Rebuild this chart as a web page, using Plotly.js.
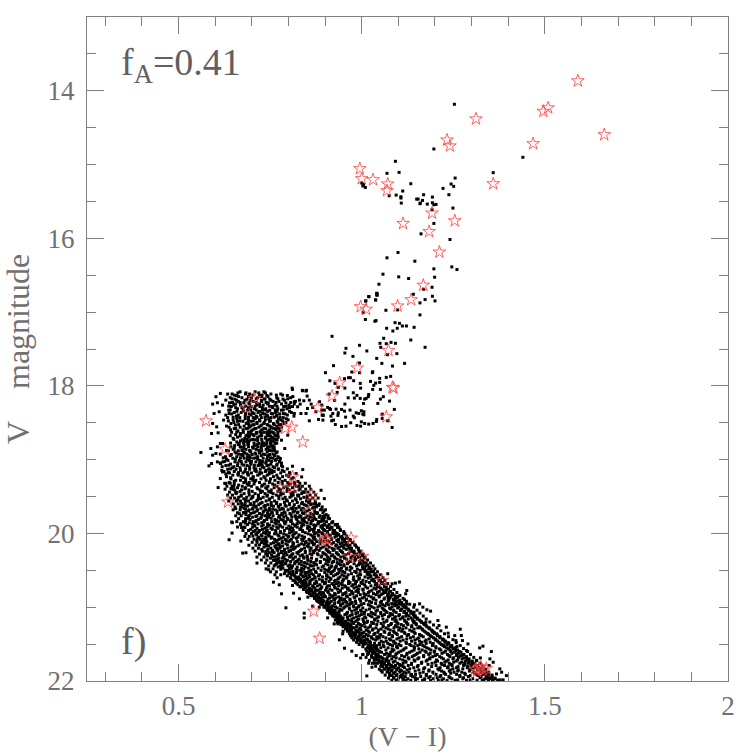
<!DOCTYPE html>
<html>
<head>
<meta charset="utf-8">
<script src="https://cdn.plot.ly/plotly-3.0.1.min.js"></script>
<style>html,body{margin:0;padding:0;background:#fff}#grafico{width:746px;height:754px}</style>
</head>
<body>
<div id="grafico"></div>
<script>
// estrelas (vermelho)
const estrelasVI = [1.590,1.509,1.496,1.662,1.312,1.233,1.241,1.468,1.359,.995,1.0,1.031,1.071,1.069,1.113,1.192,1.254,1.184,1.212,1.168,1.135,1.098,.997,1.012,1.073,.988,.94,.919,1.084,1.087,1.067,.88,.707,.685,.575,.791,.809,.839,.627,.635,.811,.809,.778,.863,.855,.971,.9,.906,.893,1.056,.869,.885,.967,1.002,1.32,1.31,1.33,1.325,1.34,1.315];
const estrelasV = [13.866,14.232,14.278,14.595,14.382,14.667,14.748,14.717,15.26,15.056,15.192,15.206,15.264,15.355,15.799,15.658,15.762,15.908,16.187,16.636,16.832,16.917,16.927,16.961,17.519,17.758,17.958,18.138,18.02,18.03,18.42,18.297,18.17,18.298,18.474,18.577,18.559,18.759,18.858,19.574,19.234,19.374,19.384,19.483,19.7,20.063,20.076,20.08,20.11,20.638,21.054,21.42,20.32,20.31,21.83,21.84,21.85,21.81,21.83,21.87];

// pontos isolados: ramo das gigantes
const gigantesVI = [1.253,1.197,1.092,1.069,1.102,1.134,1.255,1.244,1.251,1.222,1.238,1.112,1.094,1.107,1.107,1.075,1.169,1.193,1.150,1.154,1.166,1.160,1.159,1.179,1.108,1.193,1.197,1.203,1.249,1.192,1.197,1.162,1.241,1.099,1.069,1.145,1.197,1.246,1.26,1.058,1.101,1.128,1.199,1.047,1.192,1.169,1.042,1.042,1.038,1.141,1.193,1.173,1.2,1.159,1.066,1.098,1.159,1.440,1.359,1.0,1.005,1.01,1.003,1.02,1.011];
const gigantesV = [14.183,14.789,14.956,15.119,15.106,15.26,15.183,15.264,15.296,15.323,15.409,15.359,15.414,15.436,15.454,15.423,15.409,15.441,15.468,15.468,15.486,15.522,15.531,15.536,15.522,15.518,15.545,15.54,15.59,15.613,15.798,15.939,16.016,16.192,16.264,16.31,16.414,16.387,16.423,16.486,16.522,16.545,16.527,16.622,16.663,16.69,16.753,16.771,16.835,16.758,16.785,16.83,16.848,16.875,16.975,16.97,17.038,14.902,15.11,15.25,15.27,15.31,15.29,16.79,16.85];

// pontos isolados: sub-gigantes
const subgigantesVI = [1.041,1.041,1.019,1.038,1.011,1.004,1.010,1.036,1.039,1.091,1.103,1.111,1.122,1.068,1.097,1.085,1.143,.919,1.06,1.134,1.05,1.067,1.08,1.092,.994,1.052,1.173,.957,.954,1.014,1.096,1.07,.976,1.041,1.055,.994,1.117,1.084,.923,.901,.973,.994,1.03,1.029,1.067,1.079,1.049,.953,.964,.969,.978,.913,1.024,.996,1.038,1.049,1.033,1.03,1.051,.997,.927,.936,.954,.977,.987,.996,1.019,1.018,1.012,.963,.98,1.008,1.059,1.051,1.044,1.076,1.005,.954,.933,.911,.926,1.089,.907,.912,.915,.891,.892,.895,.894,.921,.916,.93,.936,.935,.945,.953,.968,.956,.923,.918,.928,.945,.957,.97,.977,.985,.992,.999,1.006,1.003,1.006,.98,.999,.987,.997,1.008,1.019,1.031,1.04,1.041,1.056,1.056,1.071,1.083,.811,.839,.848,.851,.816,.842,.825,.862,.866,.885,.891,.834,.816,.857,.898,.848,.875,.894,.882,.852,.83,.832,.857,.81,.838,.849];
const subgigantesV = [16.744,16.767,16.79,16.835,16.848,17.007,17.10,17.124,17.115,17.143,17.152,17.188,17.188,17.219,17.219,17.256,17.206,17.328,17.355,17.378,17.423,17.428,17.41,17.423,17.45,17.477,17.477,17.491,17.554,17.527,17.563,17.577,17.6,17.627,17.695,17.69,17.695,17.731,17.726,17.821,17.812,17.821,17.808,17.821,17.885,17.871,17.898,17.903,17.889,17.889,17.93,17.93,17.939,17.966,17.962,17.953,17.993,18.048,18.048,18.03,17.966,18.02,18.03,18.093,18.129,18.17,18.116,18.147,18.17,18.161,18.165,18.179,18.147,18.179,18.238,18.206,18.238,18.247,18.088,18.111,18.197,18.319,18.292,18.306,18.319,18.328,18.396,18.4,18.464,18.374,18.41,18.315,18.365,18.4,18.319,18.342,18.328,18.423,18.464,18.473,18.523,18.55,18.546,18.5,18.41,18.365,18.374,18.337,18.351,18.383,18.392,18.432,18.487,18.537,18.546,18.509,18.518,18.509,18.482,18.455,18.383,18.441,18.473,18.564,18.048,18.066,18.07,18.138,18.215,18.202,18.283,18.247,18.292,18.215,18.26,18.374,18.374,18.473,18.328,18.374,18.351,18.396,18.455,18.306,18.193,18.247,18.193,18.03,18.06,18.06];

// pontos isolados: bordas da sequencia principal
const bordaVI = [.602,.614,.593,.606,.62,.629,.634,.597,.611,.593,.604,.59,.608,.629,.623,.614,.62,.606,.588,.561,.602,.593,.583,.59,.606,.615,.614,.608,.62,.629,.643,.761,.781,.798,.79,.778,.811,.839,.821,.836,.839,.889,.898,.825,.645,.638,.646,.67,.675,.684,.714,.746,.759,.769,.775,.781,.793,.811,.814,.83,.843,.843,.853,.866,.884,.907,.925,.647,.661,.67,.682,.679,.656,.666,.877,.898,.934,.875,.894,.925,.937,1.071,1.021,1.092,1.103,1.083,1.123,1.12,1.085,1.099,1.117,1.123,1.144,1.158,1.167,1.178,1.188,1.143,1.144,1.175,1.208,1.211,1.195,1.231,1.236,1.269,1.254,1.272,1.257,1.275,1.245,1.26,1.29,1.331,1.322,1.354,1.286,1.324,1.35,1.359,1.313,1.348,1.377,1.382,1.368,1.395,1.359,1.386,.953,.973,.985,.997,1.003,1.028,1.019,1.035,1.047,1.058,1.053,1.071,1.076,1.014,.935,.948,.939];
const bordaV = [18.147,18.102,18.247,18.229,18.26,18.193,18.111,18.374,18.351,18.509,18.555,18.645,18.636,18.396,18.464,18.781,18.781,18.826,18.849,18.903,18.917,18.939,19.084,19.052,19.03,19.052,19.256,19.378,19.166,19.324,19.392,18.758,18.736,18.668,18.849,18.985,19.089,19.134,19.188,19.234,19.437,19.415,19.528,19.483,19.845,20.085,19.995,20.103,20.266,20.262,20.402,20.492,20.66,20.601,20.696,20.818,21.008,20.705,20.809,20.886,21.081,21.144,20.864,20.986,21,21.144,21.226,19.854,19.913,19.868,19.859,19.913,19.664,19.732,19.628,19.786,19.877,19.89,19.89,19.981,20.017,20.546,20.524,20.673,20.659,20.682,20.773,20.818,20.827,20.854,20.899,20.954,20.967,20.954,20.999,21.035,21.053,21.067,21.135,21.203,21.18,21.248,21.338,21.27,21.352,21.298,21.384,21.384,21.452,21.452,21.533,21.533,21.497,21.528,21.551,21.601,21.587,21.687,21.7,21.746,21.723,21.791,21.836,21.881,21.904,21.927,21.972,21.985,21.556,21.596,21.655,21.687,21.642,21.814,21.759,21.759,21.7,21.746,21.859,21.836,21.927,21.931,21.225,21.361,21.442];

// sequencia principal densa: cada linha e [V, (V-I), (V-I), ...]
const faixas = [
[18.08,.709,.668,.733],[18.11,.779,.646,.694,.752,.683],[18.13,.741,.658,.797,.721],[18.16,.716,.641,.806,.673,.768,.699],
[18.18,.749,.687,.654,.785,.736],[18.21,.819,.663,.727,.704,.774,.758],[18.23,.692,.639,.793,.745,.678],[18.26,.731,.802,.651,.714,.669,.763],
[18.28,.644,.755,.698,.811,.722,.787],[18.31,.771,.661,.707,.796,.676,.738],[18.33,.688,.781,.637,.749,.729],[18.36,.717,.652,.808,.671,.764,.701],
[18.38,.776,.645,.735,.693,.791,.757],[18.41,.682,.815,.743,.658,.712,.767],[18.43,.726,.634,.786,.704,.667,.752],[18.46,.691,.799,.737,.649,.779,.721],
[18.48,.769,.661,.697,.748,.676],[18.51,.643,.733,.788,.685,.759,.714],[18.53,.702,.775,.655,.744,.727],[18.56,.753,.638,.693,.781,.668,.719],
[18.58,.708,.652,.765,.684,.738],[18.61,.777,.699,.662,.746,.725],[18.63,.734,.645,.713,.758,.677],[18.66,.689,.771,.656,.742,.703],
[18.68,.722,.668,.763,.694,.751],[18.71,.649,.737,.681,.757,.716],[18.73,.769,.698,.674,.745,.709],[18.76,.728,.659,.752,.686],
[18.78,.691,.764,.666,.741,.719],[18.81,.733,.653,.707,.756,.679],[18.83,.702,.748,.671,.725],[18.86,.761,.649,.712,.684,.739],
[18.88,.695,.636,.754,.663,.727],[18.91,.721,.766,.657,.709,.681],[18.93,.644,.736,.701,.749,.672],[18.96,.688,.628,.771,.716,.659,.743],
[18.98,.731,.648,.705,.758,.679],[19.01,.693,.764,.635,.722,.666,.747],[19.03,.711,.621,.775,.654,.739,.684],[19.06,.752,.642,.698,.769,.673,.728],
[19.08,.687,.781,.629,.741,.661,.717],[19.11,.733,.647,.762,.706,.668],[19.13,.657,.772,.694,.634,.749,.723],[19.16,.712,.624,.788,.681,.761,.652,.737],
[19.18,.699,.755,.639,.779,.676,.727],[19.21,.768,.648,.716,.795,.663,.742,.691],[19.23,.704,.631,.784,.671,.759,.801,.733],[19.26,.751,.643,.725,.809,.683,.776,.697],
[19.28,.669,.763,.711,.791,.656,.739,.703],[19.31,.721,.798,.638,.772,.693,.817,.678,.748],[19.33,.735,.652,.805,.706,.757,.687,.783],[19.36,.769,.646,.727,.822,.699,.794,.674,.744],
[19.38,.714,.811,.661,.761,.683,.787,.738],[19.41,.753,.672,.829,.722,.653,.778,.692,.802],[19.43,.701,.796,.746,.668,.818,.729,.771],[19.46,.736,.657,.836,.786,.709,.679,.758,.807],
[19.48,.693,.767,.827,.718,.671,.813,.743,.779],[19.51,.756,.664,.731,.842,.686,.791,.702,.804,.718],[19.53,.698,.833,.749,.678,.785,.724,.819,.774],[19.56,.811,.669,.739,.849,.691,.762,.797,.713],
[19.58,.728,.682,.855,.768,.706,.824,.789,.753,.838],[19.61,.674,.843,.744,.803,.696,.861,.778,.719,.816],[19.63,.759,.688,.829,.711,.794,.852,.733,.772],[19.66,.807,.679,.748,.866,.703,.783,.839,.725,.821],
[19.68,.716,.857,.693,.777,.835,.738,.799,.764,.748],[19.71,.826,.684,.754,.872,.731,.788,.846,.708,.813],[19.73,.743,.697,.861,.782,.721,.841,.804,.769,.878],[19.76,.693,.818,.736,.869,.758,.851,.714,.793,.831,.776],
[19.78,.848,.702,.773,.884,.726,.809,.746,.865,.787,.828],[19.81,.695,.837,.763,.891,.718,.875,.799,.741,.823,.856,.779],[19.84,.754,.711,.882,.806,.733,.844,.773,.862,.704,.826,.793],[19.87,.861,.717,.791,.898,.743,.824,.702,.767,.881,.811,.839],
[19.90,.727,.853,.778,.906,.708,.836,.758,.889,.801,.872,.744,.819],[19.93,.795,.714,.871,.752,.913,.834,.736,.893,.772,.852,.811],[19.96,.882,.721,.813,.742,.922,.765,.857,.709,.838,.899,.789,.869],[19.99,.748,.906,.778,.716,.846,.803,.928,.732,.876,.821,.766,.891],
[20.02,.861,.726,.936,.794,.713,.829,.771,.911,.745,.881,.812,.897],[20.05,.719,.844,.786,.927,.755,.902,.738,.813,.871,.942,.799,.826],[20.08,.774,.918,.732,.856,.947,.808,.723,.888,.762,.836,.873,.791],[20.11,.897,.741,.824,.936,.766,.865,.729,.953,.801,.911,.783,.848,.878],
[20.14,.752,.887,.793,.959,.836,.734,.918,.814,.871,.773,.941,.855],[20.17,.826,.962,.746,.901,.784,.852,.929,.763,.881,.811,.739,.946],[20.20,.768,.919,.844,.752,.966,.798,.888,.817,.951,.776,.862,.935],[20.23,.906,.757,.833,.941,.789,.872,.971,.743,.859,.806,.922,.771,.884],
[20.26,.761,.979,.823,.894,.748,.948,.846,.792,.913,.869,.781,.931],[20.29,.864,.754,.937,.809,.984,.773,.903,.838,.956,.881,.796,.921],[20.32,.786,.926,.762,.851,.971,.819,.889,.757,.991,.841,.907,.803,.943],[20.35,.877,.768,.959,.829,.913,.791,.984,.853,.933,.771,.898,.813],
[20.38,.994,.775,.861,.923,.806,.946,.784,.887,.835,.969,.909,.822],[20.41,.792,.938,.851,.781,.999,.873,.817,.961,.902,.768,.979,.829],[20.44,.896,.777,.952,.843,1.004,.799,.918,.868,.986,.811,.931,.861],[20.47,.809,.973,.881,.785,.945,.836,.912,1.008,.803,.959,.855,.927],
[20.50,.925,.798,.861,1.012,.824,.889,.968,.791,.941,.833,.996,.906],[20.53,.851,.985,.803,.917,.845,1.017,.876,.954,.822,.938,.899,.812],[20.56,.963,.815,.885,1.021,.834,.929,.808,.997,.868,.946,.905,.856],[20.59,.827,.908,1.025,.858,.978,.819,.941,.893,1.009,.841,.959,.872],
[20.62,.935,.833,.992,.866,1.031,.916,.823,.977,.884,.951,.849,.903],[20.65,.875,1.035,.839,.964,.911,.829,1.012,.858,.986,.926,.893,.947],[20.68,.983,.846,.919,1.041,.871,.943,.837,1.002,.898,.964,.859,.931],[20.71,.866,.954,1.047,.851,.912,.994,.879,1.025,.841,.937,.906,.973],
[20.74,.928,.857,1.051,.889,.979,.846,.963,1.016,.904,.872,1.034,.947],[20.77,1.004,.853,.942,.881,1.059,.919,.864,.988,.901,1.028,.966,.875],[20.80,.893,1.065,.871,.957,1.018,.859,.936,.974,.909,1.043,.886,.991],[20.83,.948,.876,1.039,.913,1.072,.866,.996,.928,.889,1.011,.968,1.053],
[20.86,.883,1.007,.937,1.078,.871,.961,.901,1.048,.979,.919,1.026,.893],[20.89,1.061,.889,.953,1.086,.924,.876,.994,1.031,.908,.968,1.013,.941],[20.92,.897,.983,1.072,.939,1.094,.882,.917,1.021,.956,1.054,.906,.997],[20.95,1.103,.911,1.038,.891,.969,1.068,.926,1.006,.949,1.082,.984,.903],
[20.98,.921,1.112,.977,.898,1.049,.943,1.023,.908,.993,1.091,.959,1.064],[21.01,1.034,.904,.966,1.121,.933,1.076,1.003,.918,1.098,.951,1.056,.986],[21.04,.927,1.128,1.012,.909,.981,1.087,.946,1.043,.918,1.106,.997,1.062],[21.07,1.069,.923,.961,1.134,1.026,.914,1.094,.989,1.052,.938,1.115,1.007],
[21.10,.936,1.037,.919,1.122,.974,1.141,1.084,.954,1.018,.928,1.062,.999,1.103],[21.13,1.146,.943,1.046,.926,.986,1.113,1.028,.961,1.073,.934,1.092,1.008],[21.16,.948,1.058,1.152,.932,1.003,1.127,.973,1.084,1.036,.941,1.105,.992],[21.19,1.118,.938,1.016,1.161,.956,1.068,.984,1.143,.947,1.044,1.091,1.005,.972],
[21.22,.963,1.169,1.053,.946,1.124,1.007,.978,1.081,.953,1.148,1.032,1.099,.991],[21.25,1.073,.952,1.176,.987,1.114,1.024,.959,1.137,1.001,1.059,.971,1.092],[21.28,.968,1.153,1.039,.956,1.184,1.088,.996,1.121,1.017,.979,1.066,1.104],[21.31,1.131,.963,1.046,1.191,.984,1.101,1.012,.972,1.167,1.078,1.029,.998],
[21.34,.977,1.198,1.063,.969,1.116,1.021,1.175,.992,1.089,1.044,1.143,1.006],[21.37,1.158,.983,1.033,1.206,1.097,.996,1.074,.975,1.128,1.012,1.183,1.052],[21.40,.991,1.213,1.109,1.026,.981,1.168,1.058,1.003,1.141,1.084,1.191,1.041],[21.43,1.076,.997,1.221,1.151,1.014,1.123,1.042,1.184,.988,1.096,1.201,1.031],
[21.46,1.004,1.136,1.229,1.067,1.173,1.021,1.105,.995,1.207,1.053,1.158,1.087],[21.49,1.238,1.011,1.092,1.146,1.035,1.195,1.003,1.071,1.214,1.122,1.048,1.176],[21.52,1.018,1.167,1.245,1.059,1.107,1.222,1.026,1.135,1.084,1.193,1.041,1.153],[21.55,1.121,1.024,1.254,1.072,1.203,1.036,1.178,1.098,1.232,1.052,1.144,1.016],
[21.58,1.031,1.262,1.113,1.189,1.066,1.241,1.143,1.043,1.216,1.088,1.165,1.022],[21.61,1.198,1.037,1.271,1.131,1.054,1.225,1.079,1.159,1.252,1.101,1.029,1.176],[21.64,1.045,1.148,1.279,1.093,1.234,1.062,1.206,1.123,1.038,1.259,1.076,1.183],[21.67,1.241,1.051,1.117,1.286,1.169,1.071,1.194,1.043,1.266,1.138,1.087,1.213],
[21.70,1.059,1.293,1.104,1.223,1.153,1.047,1.274,1.082,1.186,1.129,1.249,1.068],[21.73,1.176,1.066,1.302,1.119,1.258,1.091,1.207,1.055,1.145,1.283,1.074,1.231],[21.76,1.073,1.239,1.136,1.309,1.098,1.192,1.062,1.268,1.163,1.113,1.291,1.217],[21.79,1.316,1.081,1.154,1.247,1.108,1.203,1.067,1.278,1.127,1.226,1.092,1.298],
[21.82,1.089,1.172,1.323,1.259,1.117,1.214,1.077,1.142,1.288,1.234,1.101,1.307],[21.85,1.264,1.096,1.331,1.184,1.124,1.295,1.083,1.156,1.242,1.106,1.316,1.211],[21.88,1.103,1.273,1.168,1.338,1.129,1.224,1.091,1.306,1.194,1.252,1.116,1.324],[21.91,1.347,1.112,1.203,1.283,1.136,1.098,1.314,1.177,1.259,1.229,1.331,1.147],
[21.94,1.119,1.291,1.356,1.161,1.238,1.106,1.326,1.187,1.268,1.139,1.214,1.341],[21.97,1.303,1.126,1.364,1.196,1.114,1.246,1.152,1.337,1.276,1.172,1.351,1.223],[21.99,1.134,1.372,1.209,1.286,1.121,1.166,1.346,1.255,1.315,1.188,1.233]
];

// segunda leitura da faixa, em V intermediarios, com as bordas mais soltas
const faixasExtra = [
[19.195,.688,.629,.747,.804,.721,.662],[19.245,.736,.642,.813,.677,.771,.703],[19.295,.652,.783,.708,.826,.749,.683],[19.345,.729,.817,.664,.762,.691,.801],
[19.395,.774,.649,.832,.716,.681,.797,.741],[19.445,.692,.843,.752,.659,.812,.724,.779],[19.495,.808,.671,.741,.851,.703,.773,.828],[19.545,.716,.858,.683,.794,.747,.821,.661],
[19.595,.836,.696,.767,.874,.723,.803,.672],[19.62,.753,.882,.705,.791,.681,.848,.737],[19.645,.813,.669,.736,.869,.774,.829,.712],[19.67,.702,.891,.757,.842,.786,.683,.811],
[19.695,.769,.851,.691,.733,.897,.817,.714,.744],[19.72,.876,.704,.791,.678,.838,.756,.824],[19.745,.728,.903,.684,.807,.867,.749,.783],[19.77,.834,.711,.776,.894,.691,.859,.742,.819],
[19.795,.689,.908,.753,.821,.797,.871,.724,.843],[19.825,.768,.896,.712,.841,.683,.808,.734,.866,.786],[19.855,.918,.727,.789,.693,.851,.763,.833,.881],[19.885,.706,.817,.929,.748,.869,.776,.899,.731,.842],
[19.915,.784,.702,.889,.824,.938,.741,.858,.768,.806,.916],[19.945,.864,.729,.941,.697,.803,.896,.756,.831,.913],[19.975,.719,.951,.839,.778,.907,.704,.869,.809,.739,.884],[20.005,.816,.739,.926,.711,.954,.854,.787,.893,.762,.871],
[20.035,.703,.958,.801,.883,.748,.914,.837,.728,.866,.774,.931],[20.065,.917,.716,.842,.961,.781,.899,.739,.822,.868,.753,.948],[20.095,.737,.877,.969,.804,.714,.932,.769,.859,.906,.794,.839],[20.125,.846,.974,.726,.923,.783,.887,.759,.946,.812,.864,.738],
[20.155,.981,.741,.829,.906,.768,.954,.721,.868,.797,.931,.843,.775],[20.185,.778,.894,.986,.733,.819,.939,.856,.764,.911,.807,.877],[20.215,.876,.744,.991,.789,.925,.836,.958,.727,.903,.813,.769],[20.245,.756,.993,.846,.909,.781,.868,.973,.738,.829,.945,.801],
[20.275,.933,.773,.859,.997,.742,.826,.898,.964,.787,.879,.812],[20.305,.806,.743,1.002,.917,.851,.769,.976,.832,.891,.951,.788],[20.335,.909,.751,.971,.842,1.008,.784,.863,.953,.812,.927,.774],[20.365,.759,.876,1.003,.797,.941,.826,.904,.764,.981,.853],
[20.395,.963,.818,1.012,.769,.887,.933,.844,.793,.919,.869,.778],[20.425,.836,.992,.764,.908,1.016,.804,.951,.877,.785,.942,.859],[20.455,1.021,.781,.929,.846,.969,.808,.892,1.002,.824,.916,.772],[20.485,.869,.779,.988,1.026,.821,.937,.804,.899,.958,.842,.911],
[20.515,.793,.948,.874,1.032,.837,.981,.909,.812,1.009,.856,.921],[20.545,1.037,.834,.916,.801,.972,.863,.995,.789,.934,.847,1.015],[20.575,.882,.817,1.024,.952,1.041,.797,.923,.848,.989,.839,.904],[20.605,.806,1.046,.959,.873,.994,.829,.914,1.018,.852,.937],
[20.635,.979,.844,1.051,.892,.812,.949,1.003,.861,.928,.833,1.027],[20.665,.819,.936,1.056,.901,.998,.848,1.021,.877,.968,.836],[20.695,1.062,.855,.947,.826,1.008,.886,.977,.839,.923,1.037],[20.725,.891,1.067,.833,.986,.926,1.042,.868,.956,1.011,.843],
[20.755,1.073,.934,.841,1.003,.887,1.039,.961,.862,.992,.913,1.055],[20.785,.849,.972,1.079,.907,1.022,.873,1.048,.942,.859,.984],[20.815,1.084,.884,1.006,.857,.951,1.032,.896,.976,.926,1.058],[20.845,.921,1.091,.864,1.047,.986,.899,1.019,.874,.958,1.071],
[20.875,1.002,.872,1.097,.944,1.063,.912,.981,.881,1.033,.929,1.076],[20.905,.889,1.039,1.104,.968,.877,1.074,.926,1.012,.948,.894,1.087],[20.935,1.109,.959,.884,1.027,.913,1.051,.891,.974,1.091,.936],[20.965,.893,1.116,.999,1.073,.942,1.018,.904,1.057,.966,1.096],
[20.995,1.028,.916,1.121,.978,.899,1.083,.954,1.044,.928,1.101,.991],[21.025,1.127,.908,1.059,.986,.941,1.109,1.021,.917,1.079,.967],[21.055,.938,1.134,.973,1.066,.913,1.039,1.117,.999,.927,1.088],[21.085,1.139,.919,1.052,1.007,.959,1.123,.984,1.078,.933,1.031],
[21.115,.926,1.077,1.146,.968,1.023,.941,1.101,1.056,.993,1.129],[21.145,1.151,1.011,.934,1.089,.961,1.135,1.042,.949,.978,1.111],[21.175,.941,1.158,1.069,.988,1.117,.928,1.035,1.094,.964,1.139],[21.205,1.096,.946,1.164,1.014,.976,1.143,1.061,.934,1.122,1.027],
[21.235,1.171,.957,1.041,1.108,.943,.996,1.149,1.079,.969,1.126],[21.265,.949,1.178,1.058,1.136,1.009,.964,1.097,1.158,.986,1.023],[21.295,1.186,1.031,.956,1.112,.993,1.165,1.072,.971,1.143,1.053],[21.325,.961,1.193,1.087,.989,1.137,1.018,1.171,.949,1.061,1.109],
[21.355,1.199,1.001,1.076,.966,1.146,1.036,1.179,.984,1.118,1.094],[21.385,.976,1.124,1.207,1.049,.994,1.163,1.083,.969,1.187,1.018],[21.415,1.214,1.066,.983,1.133,1.027,1.196,.973,1.102,1.156,1.048],[21.445,.989,1.221,1.113,1.038,1.176,1.008,1.145,.978,1.079,1.203],
[21.475,1.227,1.059,.997,1.164,1.121,1.019,1.211,1.088,.986,1.187],[21.505,1.006,1.233,1.131,1.077,1.194,.993,1.049,1.159,1.218,1.101],[21.535,1.241,1.018,1.095,1.172,1.003,1.226,1.061,1.143,1.202,1.034],[21.565,1.011,1.249,1.156,1.039,1.116,1.237,1.028,1.184,1.083,1.212],
[21.595,1.257,1.084,1.023,1.199,1.137,1.046,1.229,1.107,1.014,1.173],[21.625,1.031,1.264,1.152,1.068,1.219,1.019,1.124,1.246,1.096,1.187],[21.655,1.272,1.041,1.169,1.109,1.027,1.238,1.078,1.201,1.143,1.259],[21.685,1.033,1.279,1.186,1.056,1.127,1.251,1.094,1.218,1.039,1.156],
[21.715,1.287,1.046,1.204,1.112,1.069,1.262,1.179,1.041,1.236,1.143],[21.745,1.053,1.294,1.164,1.227,1.086,1.273,1.047,1.121,1.201,1.251],[21.775,1.301,1.059,1.136,1.244,1.181,1.076,1.282,1.054,1.219,1.103],[21.805,1.068,1.311,1.191,1.113,1.263,1.057,1.152,1.236,1.289,1.084],
[21.835,1.317,1.074,1.208,1.131,1.276,1.063,1.169,1.249,1.096,1.299],[21.865,1.081,1.326,1.146,1.262,1.218,1.072,1.183,1.294,1.109,1.239],[21.895,1.333,1.087,1.197,1.121,1.281,1.243,1.076,1.159,1.309,1.226],[21.925,1.094,1.341,1.268,1.134,1.216,1.083,1.297,1.176,1.319,1.108],
[21.955,1.349,1.101,1.206,1.278,1.146,1.088,1.241,1.323,1.183,1.111],[21.985,1.113,1.358,1.262,1.099,1.171,1.296,1.219,1.333,1.147,1.378]
];

// topo da sequencia (V < 19.2), mais cheio que a primeira leitura
const faixasTopo = [
[18.095,.737,.684,.662,.719],[18.125,.703,.767,.652,.728,.784],[18.145,.691,.744,.664,.812,.726],[18.175,.771,.712,.646,.734,.798],
[18.195,.658,.726,.789,.681,.752,.697],[18.225,.739,.668,.806,.713,.766,.647],[18.245,.694,.781,.656,.743,.721,.816],[18.275,.748,.637,.709,.769,.683,.794],
[18.295,.673,.729,.803,.656,.757,.691],[18.325,.764,.712,.641,.786,.697,.736],[18.345,.659,.743,.803,.677,.721,.769],[18.375,.706,.786,.638,.753,.683,.729],
[18.395,.768,.663,.724,.797,.698,.741],[18.425,.649,.736,.777,.691,.714,.761],[18.445,.709,.794,.659,.746,.682,.773],[18.475,.751,.636,.722,.784,.668,.704],
[18.495,.689,.771,.651,.734,.714,.793],[18.525,.761,.664,.706,.779,.692,.742],[18.545,.631,.723,.749,.679,.768,.697],[18.575,.711,.656,.758,.689,.773,.733],
[18.595,.766,.642,.728,.676,.703,.749],[18.625,.691,.754,.659,.722,.771,.742],[18.645,.726,.669,.761,.697,.748,.712],[18.675,.641,.743,.684,.768,.706,.727],
[18.695,.754,.661,.716,.691,.772,.738],[18.725,.687,.749,.651,.727,.764,.703],[18.745,.716,.669,.756,.693,.741,.679],[18.775,.751,.642,.706,.732,.677,.768],
[18.795,.689,.727,.663,.752,.714,.738],[18.825,.643,.743,.691,.761,.716,.668],[18.845,.726,.678,.757,.704,.652,.744],[18.875,.673,.748,.631,.719,.694,.762],
[18.895,.742,.654,.697,.769,.722,.678],[18.925,.614,.687,.758,.711,.664,.731],[18.945,.726,.641,.762,.693,.676,.744],[18.975,.669,.751,.622,.712,.696,.774],
[18.995,.741,.655,.688,.767,.716,.631],[19.025,.699,.626,.754,.671,.729,.776],[19.045,.662,.738,.614,.781,.696,.721],[19.075,.746,.637,.707,.678,.768,.721],
[19.095,.651,.729,.784,.694,.619,.758],[19.125,.711,.642,.773,.683,.746,.797],[19.145,.669,.739,.618,.708,.783,.754],[19.175,.748,.636,.689,.803,.722,.664]
];

// bordas soltas da faixa inferior: pontos fora do nucleo, dos dois lados
const faixasBordas = [
[19.32,.626,.641,.831,.846],[19.36,.632,.651,.838,.857,.829],[19.40,.648,.627,.847,.861],[19.44,.639,.656,.853,.842,.869],
[19.48,.647,.634,.859,.874],[19.52,.653,.642,.851,.866,.881],[19.56,.658,.637,.873,.858],[19.60,.663,.649,.884,.869,.861],
[19.64,.654,.672,.876,.892],[19.68,.668,.649,.887,.871,.901],[19.72,.661,.677,.894,.879],[19.76,.671,.656,.908,.886,.899],
[19.80,.664,.683,.912,.893],[19.84,.677,.659,.904,.921,.889],[19.88,.669,.688,.927,.911],[19.92,.681,.672,.919,.934,.906],
[19.96,.691,.676,.942,.926],[20.00,.684,.699,.933,.951,.921],[20.04,.693,.681,.946,.959],[20.08,.706,.689,.953,.937,.968],
[20.12,.701,.714,.961,.976],[20.16,.692,.711,.951,.983,.968],[20.20,.718,.703,.991,.972],[20.24,.709,.729,.979,.996,.968],
[20.28,.721,.738,.987,1.004],[20.32,.733,.714,1.009,.994,.981],[20.36,.741,.726,1.016,.998],[20.40,.737,.752,1.007,1.024,.994],
[20.44,.746,.761,1.031,1.012],[20.48,.758,.739,1.019,1.036,1.004],[20.52,.767,.751,1.043,1.026],[20.56,.763,.779,1.034,1.051,1.017],
[20.60,.821,.806,1.058,1.039],[20.64,.816,.831,1.047,1.063,1.032],[20.68,.839,.823,1.071,1.054],[20.72,.831,.848,1.062,1.079,1.046],
[20.76,.856,.842,1.088,1.067],[20.80,.851,.868,1.074,1.096,1.061],[20.84,.878,.861,1.104,1.081],[20.88,.871,.886,1.113,1.092,1.073],
[20.92,.896,.879,1.101,1.122],[20.96,.888,.904,1.131,1.108,1.089],[21.00,.912,.897,1.116,1.142],[21.04,.906,.921,1.151,1.127,1.106],
[21.08,.929,.913,1.136,1.159],[21.12,.921,.937,1.168,1.144,1.121],[21.16,.946,.931,1.153,1.176],[21.20,.939,.956,1.186,1.163,1.141],
[21.24,.966,.948,1.196,1.174],[21.28,.959,.976,1.183,1.206,1.161],[21.32,.969,.986,1.216,1.192],[21.36,.981,.997,1.204,1.226,1.181],
[21.40,.993,1.008,1.237,1.213],[21.44,.999,1.016,1.224,1.249,1.201],[21.48,1.009,1.024,1.258,1.236],[21.52,1.019,1.033,1.246,1.269,1.224],
[21.56,1.026,1.041,1.278,1.256],[21.60,1.034,1.049,1.267,1.289,1.243],[21.64,1.016,1.003,1.297,1.276],[21.68,1.027,1.012,1.286,1.306,1.264],
[21.72,1.034,1.021,1.314,1.293],[21.76,1.043,1.029,1.303,1.323,1.281],[21.80,1.052,1.038,1.331,1.311],[21.84,1.061,1.048,1.322,1.339,1.301],
[21.88,1.069,1.056,1.347,1.328],[21.92,1.078,1.064,1.339,1.356,1.316],[21.96,1.087,1.073,1.364,1.343],[21.99,1.094,1.082,1.357,1.371,1.329]
];

const tamanhoPonto = 3;
const faixasTodas = [...faixas, ...faixasExtra, ...faixasTopo, ...faixasBordas];
const faixasX = faixasTodas.flatMap(linha => linha.slice(1));
const faixasY = faixasTodas.flatMap(linha => linha.slice(1).map(() => linha[0]));

const pontos = {
  x: [...gigantesVI, ...subgigantesVI, ...bordaVI, ...faixasX],
  y: [...gigantesV, ...subgigantesV, ...bordaV, ...faixasY],
  mode: 'markers',
  type: 'scatter',
  marker: { symbol: 'square', size: tamanhoPonto, color: '#000', line: { width: 0 } },
  hoverinfo: 'skip'
};

const estrelas = {
  x: estrelasVI,
  y: estrelasV,
  mode: 'markers',
  type: 'scatter',
  marker: { symbol: 'star-open', size: 9.5, color: '#ff3b3b', line: { width: 0.8, color: '#ff3b3b' } },
  hoverinfo: 'skip'
};

const cinza = '#707070';
const fonte = 'Liberation Serif, DejaVu Serif, serif';

const eixoComum = {
  showgrid: false,
  zeroline: false,
  showline: true,
  linecolor: '#808080',
  linewidth: 1.2,
  mirror: 'ticks',
  ticks: 'inside',
  ticklen: 17,
  tickwidth: 1,
  tickcolor: '#808080',
  tickfont: { family: fonte, size: 27, color: cinza }
};

const layout = {
  width: 746,
  height: 754,
  margin: { l: 87, r: 18, t: 17, b: 73 },
  paper_bgcolor: '#fff',
  plot_bgcolor: '#fff',
  showlegend: false,
  xaxis: {
    ...eixoComum,
    range: [0.25, 2],
    dtick: 0.5,
    minor: { dtick: 0.1, ticks: 'inside', ticklen: 9, tickwidth: 1, tickcolor: '#808080' },
    title: { text: '(V\u00a0\u2212\u00a0I)', standoff: 6, font: { family: fonte, size: 28, color: cinza } }
  },
  yaxis: {
    ...eixoComum,
    range: [22, 13],
    dtick: 2,
    ticklabelstandoff: 6,
    minor: { dtick: 0.5, ticks: 'inside', ticklen: 9, tickwidth: 1, tickcolor: '#808080' },
    title: { text: 'V\u00a0\u00a0\u00a0 magnitude', standoff: 26, font: { family: fonte, size: 32, color: cinza } }
  },
  annotations: [
    { xref: 'paper', yref: 'paper', x: 0.05, y: 0.928, xanchor: 'left', yanchor: 'middle', showarrow: false,
      text: 'f<sub>A</sub>=0.41', font: { family: fonte, size: 38, color: '#606060' } },
    { xref: 'paper', yref: 'paper', x: 0.05, y: 0.059, xanchor: 'left', yanchor: 'middle', showarrow: false,
      text: 'f)', font: { family: fonte, size: 38, color: '#606060' } }
  ]
};

Plotly.newPlot('grafico', [pontos, estrelas], layout, { displayModeBar: false, responsive: false });
</script>
</body>
</html>
